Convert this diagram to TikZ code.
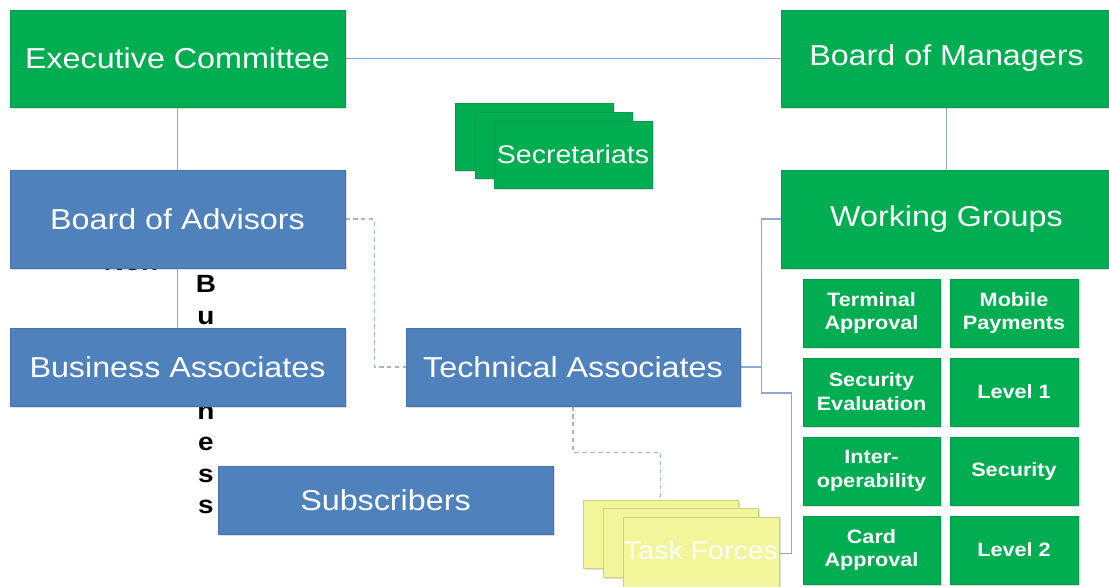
\documentclass[tikz,border=0pt]{standalone}
\usepackage{fontspec}
\setmainfont[FakeStretch=1.12]{Liberation Sans}
\usetikzlibrary{shadows,calc,backgrounds}
\definecolor{gfill}{HTML}{00AD50}
\definecolor{bfill}{HTML}{4F81BD}
\definecolor{yfill}{HTML}{F2F59A}
\definecolor{lcol}{HTML}{8DA9D6}
\newcommand\bigf{\fontsize{16.4}{19.7}\selectfont}
\newcommand\midf{\fontsize{14.5}{17}\selectfont}
\newcommand\smf{\fontsize{11}{13.6}\selectfont\bfseries}
\newcommand\vtf{\fontsize{14.2}{18}\selectfont\bfseries}
\begin{document}
\begin{tikzpicture}[x=0.02cm,y=-0.02cm,
  area/.style n args={4}{minimum width={(#3-#1)*0.02cm}, minimum height={(#4-#2)*0.02cm},
    at={({(#1+#3)/2},{(#2+#4)/2})}},
  base/.style={inner sep=0pt, line width=0.3pt, align=center,
    drop shadow={shadow xshift=1.2pt,shadow yshift=-1.2pt,opacity=0.25}},
  gbox/.style={base, fill=gfill, draw=gfill!90!black, text=white, font=\bigf},
  bbox/.style={base, fill=bfill, draw=bfill!90!black, text=white, font=\bigf},
  sbox/.style={gbox, font=\smf},
  ybox/.style={base, fill=yfill, draw=yfill!85!black, text=white},
  conn/.style={draw=lcol, line width=0.6pt},
  dconn/.style={draw=lcol!85!white, line width=0.6pt, dash pattern=on 2.5pt off 2pt}]
\useasboundingbox (0,0) rectangle (1109,586);
% hidden text behind boxes
\node[inner sep=0pt, anchor=base, text=black, font=\vtf] (non) at (131,270) {Non};
\node[inner sep=0pt, anchor=north, align=center, text=black, font=\vtf] (busw) at (206,275)
  {B\\u\\s\\i\\n\\e\\s\\s};
% top row
\node[gbox, area={10}{10}{345}{107}] (ec) {Executive Committee};
\node[gbox, area={781}{10}{1112}{107}] (bm) {Board of Managers};
% secretariats
\node[gbox, area={455}{103}{613}{170}] (sec1) {};
\node[gbox, area={475}{112}{632}{178}] (sec2) {};
\node[gbox, font=\midf, area={494}{121}{652}{188}] (sec3) {Secretariats};
% blue boxes
\node[bbox, area={10}{170}{345}{268}] (ba) {Board of Advisors};
\node[bbox, area={10}{328}{345}{406}] (bas) {Business Associates};
\node[bbox, area={406}{328}{740}{406}] (ta) {Technical Associates};
\node[bbox, area={218}{466}{553}{534}] (sub) {Subscribers};
% working groups
\node[gbox, area={781}{170}{1112}{268}] (wg) {Working Groups};
\node[sbox, area={803}{279}{940}{347}] (w11) {Terminal\\Approval};
\node[sbox, area={950}{279}{1078}{347}] (w12) {Mobile\\Payments};
\node[sbox, area={803}{358}{940}{426}] (w21) {Security\\Evaluation};
\node[sbox, area={950}{358}{1078}{426}] (w22) {Level 1};
\node[sbox, area={803}{437}{940}{505}] (w31) {Inter-\\operability};
\node[sbox, area={950}{437}{1078}{505}] (w32) {Security};
\node[sbox, area={803}{516}{940}{584}] (w41) {Card\\Approval};
\node[sbox, area={950}{516}{1078}{584}] (w42) {Level 2};
% task forces
\node[ybox, area={583}{500}{738}{568}] (tf1) {};
\node[ybox, area={603}{508}{758}{577}] (tf2) {};
\node[ybox, area={623}{517}{779}{590}] (tf3) {};
\node[text=white, inner sep=0pt, font=\midf] (tft) at (701,550) {Task Forces};
% connectors (drawn behind)
\begin{scope}[on background layer]
\draw[conn] (ec.east) -- (bm.west);
\draw[conn] (ec.south) -- (bas.north);
\draw[conn] (bm.south) -- (wg.north);
\draw[conn] (ta.east) -- ++(21,0) |- (wg.west);
\draw[conn] (ta.east) -- ++(21,0) -- ++(0,26) -| ($(tf3.east)+(12,0)$) -- (tf3.east);
\draw[dconn] (ba.east) -- ++(29,0) |- (ta.west);
\draw[dconn] (ta.south) -- ++(0,46) -| (tf1.north);
\end{scope}
\end{tikzpicture}
\end{document}
